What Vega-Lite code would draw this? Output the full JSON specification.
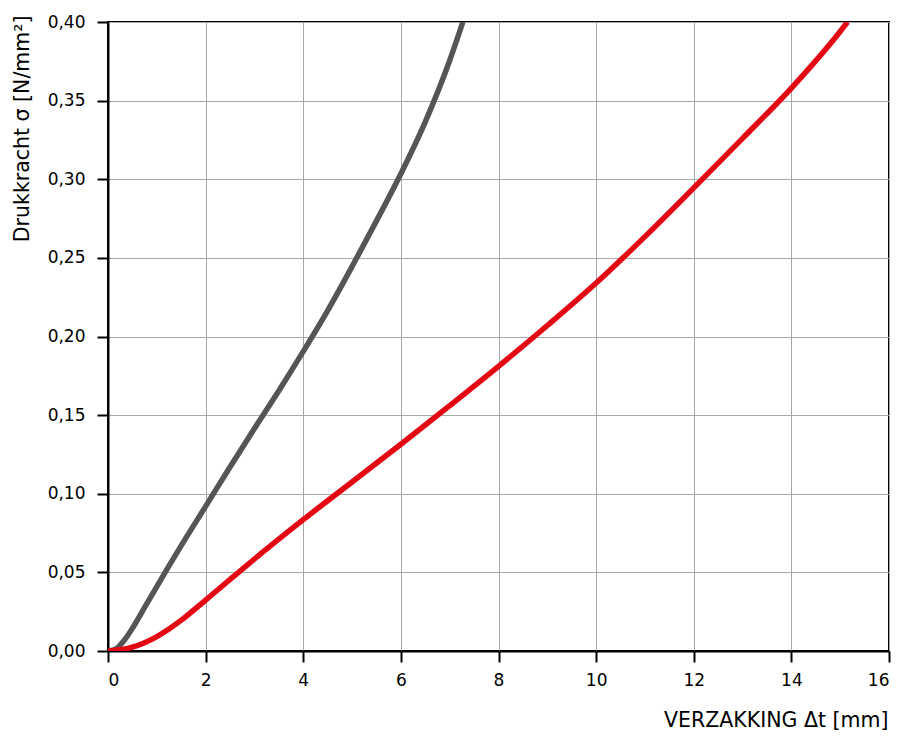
{
  "$schema": "https://vega.github.io/schema/vega-lite/v6.json",
  "width": 781,
  "height": 629,
  "autosize": {"type": "none"},
  "padding": {"left": 108, "top": 22, "right": 15, "bottom": 85},
  "background": "white",
  "config": {
    "font": "DejaVu Sans",
    "view": {"stroke": "black", "strokeWidth": 2},
    "axis": {
      "labelFont": "DejaVu Sans",
      "labelFontSize": 17,
      "labelColor": "black",
      "titleFont": "DejaVu Sans",
      "titleFontSize": 20.5,
      "titleFontWeight": "normal",
      "titleColor": "black",
      "domainColor": "black",
      "domainWidth": 2,
      "tickColor": "black",
      "tickWidth": 2,
      "tickSize": 11,
      "gridColor": "#a8a8a8",
      "gridWidth": 1
    }
  },
  "datasets": {
    "curves": [
      {"dt": 0.0, "sigma": 0.0, "serie": "grijs"},
      {"dt": 0.1, "sigma": 0.0005, "serie": "grijs"},
      {"dt": 0.2, "sigma": 0.0022, "serie": "grijs"},
      {"dt": 0.3, "sigma": 0.0055, "serie": "grijs"},
      {"dt": 0.4, "sigma": 0.0097, "serie": "grijs"},
      {"dt": 0.5, "sigma": 0.0145, "serie": "grijs"},
      {"dt": 0.75, "sigma": 0.0277, "serie": "grijs"},
      {"dt": 1.0, "sigma": 0.041, "serie": "grijs"},
      {"dt": 1.5, "sigma": 0.067, "serie": "grijs"},
      {"dt": 2.0, "sigma": 0.092, "serie": "grijs"},
      {"dt": 2.5, "sigma": 0.117, "serie": "grijs"},
      {"dt": 3.0, "sigma": 0.1415, "serie": "grijs"},
      {"dt": 3.5, "sigma": 0.1655, "serie": "grijs"},
      {"dt": 4.0, "sigma": 0.1905, "serie": "grijs"},
      {"dt": 4.5, "sigma": 0.2165, "serie": "grijs"},
      {"dt": 5.0, "sigma": 0.2445, "serie": "grijs"},
      {"dt": 5.5, "sigma": 0.2735, "serie": "grijs"},
      {"dt": 6.0, "sigma": 0.3035, "serie": "grijs"},
      {"dt": 6.5, "sigma": 0.3365, "serie": "grijs"},
      {"dt": 7.0, "sigma": 0.3755, "serie": "grijs"},
      {"dt": 7.27, "sigma": 0.4, "serie": "grijs"},
      {"dt": 0.0, "sigma": 0.0, "serie": "rood"},
      {"dt": 0.25, "sigma": 0.0008, "serie": "rood"},
      {"dt": 0.5, "sigma": 0.0025, "serie": "rood"},
      {"dt": 0.75, "sigma": 0.0053, "serie": "rood"},
      {"dt": 1.0, "sigma": 0.0092, "serie": "rood"},
      {"dt": 1.25, "sigma": 0.014, "serie": "rood"},
      {"dt": 1.5, "sigma": 0.0196, "serie": "rood"},
      {"dt": 1.75, "sigma": 0.0259, "serie": "rood"},
      {"dt": 2.0, "sigma": 0.0324, "serie": "rood"},
      {"dt": 2.5, "sigma": 0.0455, "serie": "rood"},
      {"dt": 3.0, "sigma": 0.0585, "serie": "rood"},
      {"dt": 4.0, "sigma": 0.0835, "serie": "rood"},
      {"dt": 5.0, "sigma": 0.1075, "serie": "rood"},
      {"dt": 6.0, "sigma": 0.1315, "serie": "rood"},
      {"dt": 7.0, "sigma": 0.156, "serie": "rood"},
      {"dt": 8.0, "sigma": 0.181, "serie": "rood"},
      {"dt": 9.0, "sigma": 0.207, "serie": "rood"},
      {"dt": 10.0, "sigma": 0.234, "serie": "rood"},
      {"dt": 11.0, "sigma": 0.2635, "serie": "rood"},
      {"dt": 12.0, "sigma": 0.2945, "serie": "rood"},
      {"dt": 13.0, "sigma": 0.326, "serie": "rood"},
      {"dt": 14.0, "sigma": 0.358, "serie": "rood"},
      {"dt": 15.0, "sigma": 0.394, "serie": "rood"},
      {"dt": 15.15, "sigma": 0.4, "serie": "rood"}
    ]
  },
  "data": {"name": "curves"},
  "mark": {"type": "line", "strokeWidth": 5.5, "interpolate": "monotone", "strokeCap": "butt", "clip": true},
  "encoding": {
    "x": {
      "field": "dt",
      "type": "quantitative",
      "scale": {"domain": [0, 16], "nice": false},
      "axis": {
        "values": [0, 2, 4, 6, 8, 10, 12, 14, 16],
        "format": "d",
        "labelPadding": 10,
        "title": "VERZAKKING Δt [mm]",
        "titleAnchor": null,
        "titleAlign": "right",
        "titleBaseline": "middle",
        "titleX": 780,
        "titleY": 69
      }
    },
    "y": {
      "field": "sigma",
      "type": "quantitative",
      "scale": {"domain": [0, 0.4], "nice": false},
      "axis": {
        "values": [0, 0.05, 0.1, 0.15, 0.2, 0.25, 0.3, 0.35, 0.4],
        "format": ".2f",
        "labelExpr": "replace(datum.label, '.', ',')",
        "labelPadding": 12,
        "title": "Drukkracht σ [N/mm²]",
        "titleAngle": -90,
        "titleAlign": "right",
        "titleBaseline": "middle",
        "titleX": -86,
        "titleY": -7
      }
    },
    "color": {
      "field": "serie",
      "type": "nominal",
      "scale": {"domain": ["grijs", "rood"], "range": ["#555555", "#e30613"]},
      "legend": null
    }
  }
}
